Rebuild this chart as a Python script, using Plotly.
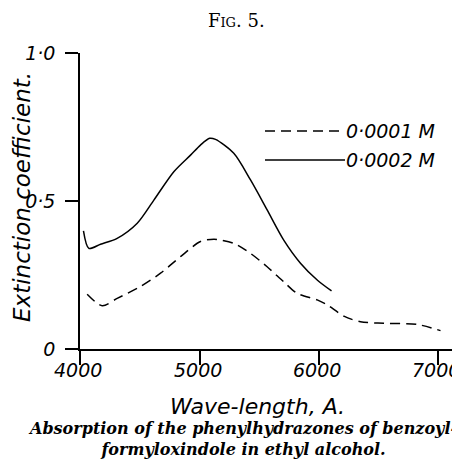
import plotly.graph_objects as go

# Data
wl_02 = [4029, 4074, 4172, 4311, 4479, 4618, 4785, 4925, 5008, 5085, 5134, 5287, 5427, 5566, 5705, 5845, 5985, 6105]
ext_02 = [0.399, 0.340, 0.354, 0.374, 0.425, 0.503, 0.599, 0.655, 0.689, 0.712, 0.708, 0.661, 0.571, 0.470, 0.368, 0.290, 0.233, 0.196]

wl_01 = [4060, 4186, 4311, 4506, 4674, 4841, 5008, 5120, 5176, 5287, 5427, 5566, 5705, 5817, 5985, 6069, 6208, 6347, 6542, 6821, 7017]
ext_01 = [0.185, 0.146, 0.171, 0.211, 0.256, 0.312, 0.363, 0.371, 0.368, 0.357, 0.323, 0.278, 0.227, 0.188, 0.166, 0.149, 0.111, 0.092, 0.087, 0.083, 0.062]

x_ticks = [4000, 5000, 6000, 7000]
x_tick_labels = ["4000", "5000", "6000", "7000"]
y_label_alias = {"0.5": "0·5", "1": "1·0"}
y_major_ticks = [0.5, 1.0]
series_names = ["0·0001 M", "0·0002 M"]
x_range = [4000, 7180]
y_range = [0, 1.0]
x_minor_ticks = [4250, 4500, 4750, 5250, 5500, 5750, 6250, 6500, 6750]
y_minor_ticks = [0.1, 0.2, 0.3, 0.4, 0.6, 0.7, 0.8, 0.9]

# page body has an 8px margin: figure is drawn 8px in from the window corner
OFF = 8
W, H = 460 - OFF, 461 - OFF
L, R, T, B = 72, 0, 45, 112
PW, PH = W - L - R, H - T - B

def px(x):
    return (x - OFF - L) / PW

def py(y):
    return (H - B - (y - OFF)) / PH

def lab_font(size):
    return dict(family="DejaVu Sans", size=size, color="black", style="italic")

# pixel -> data unit conversions (for placing tick marks just outside the axes)
x_per_px = (x_range[1] - x_range[0]) / PW
y_per_px = (y_range[1] - y_range[0]) / PH

fig = go.Figure()
fig.add_trace(go.Scatter(x=wl_01, y=ext_01, mode="lines", name=series_names[0],
                         line=dict(color="black", width=1.5, dash="10px,6px", shape="spline", smoothing=0.8)))
fig.add_trace(go.Scatter(x=wl_02, y=ext_02, mode="lines", name=series_names[1],
                         line=dict(color="black", width=1.5, shape="spline", smoothing=0.8)))

# tick marks as line markers just outside the axes (not clipped)
x_minor_len, x_major_len, y_minor_len, y_major_len = 7, 14, 9, 13
tick_x = [v for v in x_minor_ticks] + [v for v in x_ticks[1:]]
tick_xy = [-(x_minor_len / 2) * y_per_px] * len(x_minor_ticks) + [-(x_major_len / 2) * y_per_px] * len(x_ticks[1:])
tick_xs = [x_minor_len] * len(x_minor_ticks) + [x_major_len] * len(x_ticks[1:])
fig.add_trace(go.Scatter(x=tick_x, y=tick_xy, mode="markers", cliponaxis=False, hoverinfo="skip",
                         showlegend=False,
                         marker=dict(symbol="line-ns", size=tick_xs, color="black",
                                     line=dict(color="black", width=1.6))))
tick_y = [v for v in y_minor_ticks] + [v for v in y_major_ticks]
tick_yx = [x_range[0] - (y_minor_len / 2) * x_per_px] * len(y_minor_ticks) + \
          [x_range[0] - (y_major_len / 2) * x_per_px] * len(y_major_ticks)
tick_ys = [y_minor_len] * len(y_minor_ticks) + [y_major_len] * len(y_major_ticks)
fig.add_trace(go.Scatter(x=tick_yx, y=tick_y, mode="markers", cliponaxis=False, hoverinfo="skip",
                         showlegend=False,
                         marker=dict(symbol="line-ew", size=tick_ys, color="black",
                                     line=dict(color="black", width=1.6))))

fig.update_layout(
    width=W, height=H,
    margin=dict(l=L, r=R, t=T, b=B, autoexpand=False),
    paper_bgcolor="white", plot_bgcolor="white",
    showlegend=False,
    font=lab_font(18),
)
fig.update_xaxes(range=x_range, showgrid=False, zeroline=False,
                 showline=True, linecolor="black", linewidth=1.5,
                 tickmode="array", tickvals=x_ticks, showticklabels=False,
                 ticks="outside", ticklen=14, tickwidth=1.6, tickcolor="black",
                 automargin=False)
fig.update_yaxes(range=y_range, showgrid=False, zeroline=False,
                 showline=True, linecolor="black", linewidth=1.5,
                 tickmode="linear", tick0=0, dtick=0.5,
                 ticks="outside", ticklen=13, tickwidth=1.6, tickcolor="black",
                 tickfont=lab_font(19), ticklabelstandoff=6, labelalias=y_label_alias,
                 automargin=False)

# x tick labels placed at the tick values
for v, t in zip(x_ticks, x_tick_labels):
    fig.add_annotation(text=t, xref="x", yref="paper", x=v, y=py(370), xshift=-2,
                       xanchor="center", yanchor="middle", showarrow=False, font=lab_font(19))

# Legend drawn as lines + text
leg_y = [131, 160]
for i, (name, dash) in enumerate(zip(series_names, ["10px,6px", "solid"])):
    fig.add_shape(type="line", xref="paper", yref="paper",
                  x0=px(265), x1=px(345), y0=py(leg_y[i]), y1=py(leg_y[i]),
                  line=dict(color="black", width=1.5, dash=dash))
    fig.add_annotation(text=name, xref="paper", yref="paper", x=px(344), y=py(leg_y[i]),
                       xanchor="left", yanchor="middle", showarrow=False,
                       font=lab_font(19))

# Axis titles
fig.add_annotation(text="Extinction coefficient.", xref="paper", yref="paper",
                   x=px(22), y=py(197), textangle=-90, showarrow=False,
                   xanchor="center", yanchor="middle", font=lab_font(23))
fig.add_annotation(text="Wave-length, A.", xref="paper", yref="paper",
                   x=px(257), y=py(406), showarrow=False,
                   xanchor="center", yanchor="middle", font=lab_font(22))

# Figure number and caption
fig.add_annotation(text="Fig. 5.", xref="paper", yref="paper",
                   x=px(236), y=py(20), showarrow=False,
                   xanchor="center", yanchor="middle",
                   font=dict(family="DejaVu Serif", size=18, color="black",
                             style="normal", variant="small-caps"))
fig.add_annotation(text="Absorption of the phenylhydrazones of benzoyl-<br>formyloxindole in ethyl alcohol.",
                   xref="paper", yref="paper", x=px(242), y=py(439), showarrow=False,
                   xanchor="center", yanchor="middle", align="center",
                   font=dict(family="DejaVu Serif", size=16, color="black", style="italic", weight="bold"))

fig.write_html("out.html")
